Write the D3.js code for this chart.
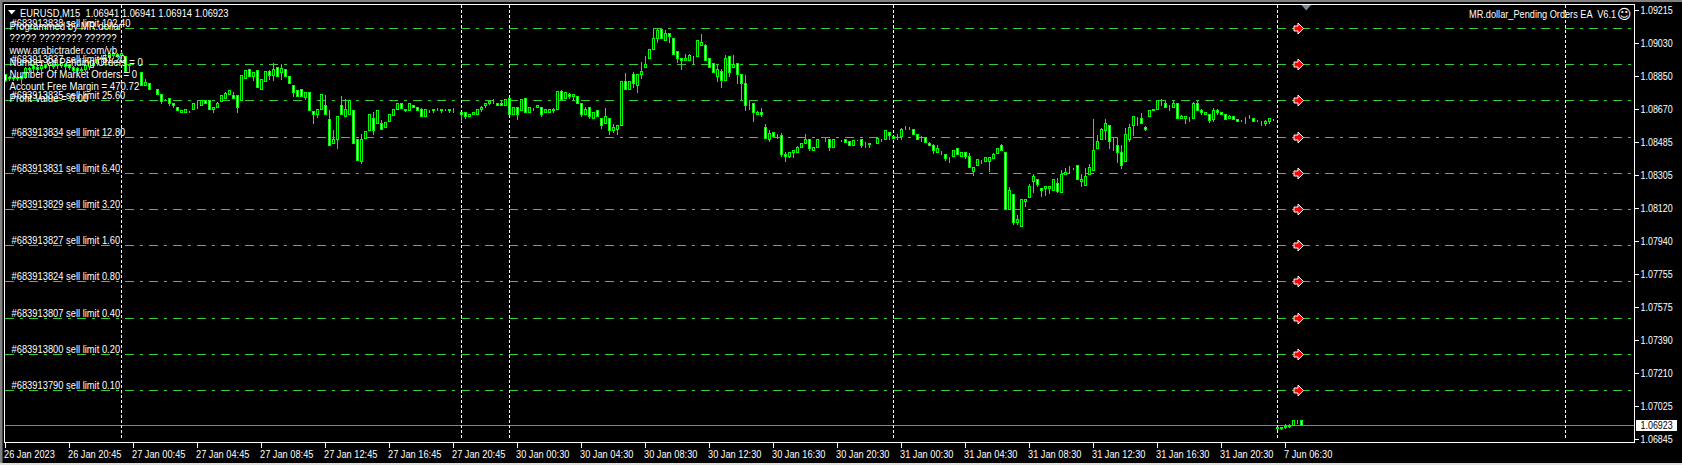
<!DOCTYPE html>
<html><head><meta charset="utf-8">
<script src="https://cdn.jsdelivr.net/npm/d3@7/dist/d3.min.js"></script>
<style>html,body{margin:0;padding:0;background:#000;overflow:hidden}svg{display:block}</style>
</head><body><svg id="c" width="1682" height="465"></svg>
<script>
// Candles are [open, high, low, close] in points above BASE_PRICE.
const BASE_PRICE = 1.06, POINT = 0.00001;
const candlesJan26 = [
[2859,2865,2821,2826],[2845,2857,2826,2839],[2843,2857,2828,2840],[2845,2855,2826,2838],[2848,2854,2813,2840],[2845,2905,2839,2896],[2887,2905,2872,2896],[2905,2915,2878,2894],[2900,2915,2872,2887],[2894,2924,2880,2909],
[2913,2924,2894,2900],[2909,2931,2891,2924],[2913,2924,2894,2905],[2909,2931,2896,2918],[2911,2931,2898,2924],[2915,2928,2891,2905],[2913,2924,2887,2902],[2898,2909,2876,2883],[2894,2905,2869,2883],[2883,2905,2872,2891],
[2887,2920,2878,2909],[2905,2939,2891,2928],[2924,2935,2902,2911],[2920,2957,2909,2946],[2942,2970,2924,2957],[2957,2975,2931,2946],[2953,2983,2942,2975],[2964,2986,2950,2975],[2972,2983,2953,2961]];
const candlesJan27 = [
[2964,2986,2950,2975],[2961,2964,2876,2878],[2911,2915,2872,2915],[2878,2880,2876,2878],[2878,2880,2876,2878],[2874,2874,2800,2800],[2800,2841,2800,2815],[2813,2813,2778,2778],[2780,2780,2780,2780],[2780,2780,2751,2751],
[2751,2751,2703,2712],[2721,2728,2716,2721],[2730,2730,2688,2703],[2703,2703,2679,2688],[2679,2679,2664,2664],[2651,2664,2651,2664],[2651,2666,2651,2666],[2662,2662,2651,2662],[2666,2703,2666,2703],[2717,2719,2675,2717],
[2690,2717,2690,2717],[2716,2716,2703,2703],[2716,2716,2666,2666],[2666,2679,2651,2679],[2679,2714,2679,2703],[2712,2743,2712,2743],[2730,2765,2730,2754],[2749,2776,2749,2771],[2743,2767,2728,2728],[2743,2743,2651,2679],
[2717,2854,2717,2854],[2837,2891,2837,2881],[2891,2891,2850,2850],[2850,2874,2828,2874],[2881,2881,2789,2789],[2776,2832,2776,2832],[2822,2878,2822,2878],[2878,2887,2835,2856],[2856,2929,2826,2891],[2902,2902,2850,2850],
[2872,2924,2832,2892],[2891,2891,2850,2850],[2850,2850,2810,2810],[2802,2802,2740,2762],[2773,2780,2740,2740],[2780,2784,2740,2740],[2736,2762,2721,2762],[2762,2762,2662,2662],[2655,2655,2588,2640],[2638,2669,2625,2669],
[2669,2752,2669,2752],[2688,2752,2638,2638],[2614,2666,2469,2469],[2482,2555,2482,2504],[2504,2629,2454,2629],[2688,2743,2638,2638],[2629,2730,2629,2669],[2638,2716,2638,2716],[2662,2662,2482,2482],[2504,2504,2389,2389],
[2380,2533,2371,2504],[2509,2546,2509,2546],[2552,2642,2552,2642],[2620,2657,2528,2552],[2588,2662,2588,2662],[2592,2614,2559,2559],[2568,2596,2568,2596],[2601,2642,2601,2642],[2633,2669,2633,2669],[2669,2703,2669,2703],
[2703,2703,2675,2675],[2669,2675,2655,2660],[2662,2703,2662,2703],[2688,2692,2677,2681],[2681,2681,2662,2662],[2669,2681,2629,2629],[2629,2669,2629,2669],[2666,2668,2651,2666],[2666,2670,2651,2664],[2669,2681,2662,2669],
[2666,2672,2651,2664],[2669,2671,2662,2669],[2666,2668,2651,2665],[2669,2681,2651,2667],[2679,2679,2679,2679],[2653,2653,2601,2640],[2653,2653,2616,2629],[2629,2642,2629,2642],[2640,2653,2640,2653],[2640,2669,2640,2669],
[2666,2690,2657,2681],[2688,2703,2679,2703],[2703,2721,2696,2712],[2703,2730,2701,2703],[2703,2703,2692,2692],[2703,2716,2692,2692],[2692,2721,2692,2721]];
const candlesJan30 = [
[2728,2735,2640,2640],[2640,2681,2640,2681],[2681,2681,2611,2640],[2662,2721,2662,2721],[2730,2730,2651,2651],[2651,2681,2651,2681],[2681,2681,2662,2681],[2681,2692,2681,2692],[2681,2681,2629,2640],[2651,2669,2651,2669],
[2651,2669,2651,2669],[2662,2681,2651,2669],[2668,2769,2668,2769],[2769,2780,2721,2721],[2728,2762,2728,2762],[2752,2762,2728,2740],[2740,2752,2717,2752],[2740,2740,2703,2703],[2703,2703,2629,2640],[2640,2684,2640,2669],
[2681,2681,2618,2629],[2618,2653,2618,2653],[2662,2669,2629,2629],[2618,2618,2564,2579],[2590,2681,2590,2631],[2620,2620,2528,2552],[2550,2592,2540,2570],[2559,2581,2528,2581],[2579,2824,2579,2824],[2824,2872,2780,2780],
[2780,2824,2780,2824],[2863,2880,2789,2813],[2800,2863,2762,2863],[2861,2931,2839,2880],[2900,2964,2900,2916],[2950,2999,2950,2999],[2999,3123,2999,3062],[3060,3123,3038,3103],[3112,3120,3060,3060],[3049,3112,3049,3090],
[3090,3090,3038,3071],[3062,3062,2972,2972],[2990,2990,2928,2950],[2950,2950,2889,2939],[2939,2979,2939,2952],[2939,2979,2939,2964],[2964,2964,2918,2964],[2961,3049,2961,3049],[3023,3090,3023,3040],[3023,3034,2939,2939],
[2950,2950,2902,2902],[2924,2924,2872,2872],[2850,2918,2822,2891],[2880,2893,2789,2828],[2828,2974,2828,2952],[2963,2963,2850,2872],[2900,2974,2900,2915],[2924,2924,2813,2861],[2863,2863,2725,2811],[2813,2863,2662,2690],
[2692,2719,2666,2692],[2703,2703,2601,2651],[2640,2662,2640,2653],[2653,2681,2629,2640],[2570,2592,2507,2507],[2500,2559,2489,2533],[2542,2542,2518,2518],[2522,2533,2507,2522],[2522,2542,2408,2417],[2421,2434,2380,2408],
[2408,2432,2404,2432],[2430,2443,2402,2443],[2430,2470,2430,2459],[2456,2482,2456,2482],[2478,2533,2478,2504],[2504,2504,2439,2452],[2441,2459,2441,2459],[2458,2504,2458,2504],[2511,2511,2511,2511],[2504,2511,2489,2504],
[2504,2504,2439,2458],[2458,2504,2458,2504],[2504,2504,2504,2504],[2505,2505,2490,2505],[2503,2503,2488,2488],[2490,2490,2470,2470],[2470,2500,2470,2496],[2496,2505,2496,2496],[2503,2503,2459,2470],[2477,2490,2459,2477],
[2472,2481,2459,2481],[2481,2481,2481,2481],[2481,2509,2481,2509],[2507,2507,2490,2507],[2505,2553,2505,2553],[2542,2542,2500,2527]];
const candlesJan31 = [
[2520,2524,2507,2507],[2514,2533,2503,2514],[2518,2570,2503,2559],[2559,2582,2559,2559],[2559,2573,2559,2559],[2559,2559,2529,2529],[2531,2531,2501,2501],[2514,2522,2490,2514],[2511,2511,2488,2488],[2481,2494,2468,2468],
[2470,2481,2426,2441],[2428,2472,2428,2453],[2433,2444,2417,2433],[2420,2420,2389,2400],[2407,2407,2378,2407],[2407,2442,2407,2442],[2453,2453,2418,2418],[2407,2431,2407,2431],[2431,2431,2398,2406],[2409,2433,2347,2347],
[2328,2348,2306,2348],[2358,2393,2358,2393],[2382,2393,2367,2382],[2380,2404,2380,2404],[2380,2404,2328,2404],[2400,2433,2400,2420],[2426,2453,2426,2453],[2470,2481,2439,2439],[2431,2431,2116,2116],[2118,2243,2118,2221],
[2199,2199,2035,2046],[2046,2090,2035,2061],[2020,2171,2020,2171],[2159,2171,2131,2171],[2181,2260,2181,2243],[2269,2312,2207,2299],[2282,2282,2240,2256],[2232,2232,2190,2219],[2229,2245,2195,2245],[2229,2243,2205,2243],
[2219,2282,2219,2282],[2260,2293,2207,2216],[2208,2334,2208,2310],[2308,2348,2308,2321],[2347,2361,2315,2347],[2347,2347,2334,2347],[2360,2360,2282,2282],[2269,2312,2245,2282],[2247,2348,2247,2299],[2308,2371,2308,2348],
[2330,2616,2330,2442],[2450,2531,2450,2492],[2501,2570,2501,2559],[2551,2619,2500,2592],[2581,2581,2450,2492],[2470,2514,2439,2470],[2470,2514,2378,2430],[2431,2472,2341,2358],[2380,2570,2380,2531],[2505,2592,2490,2570],
[2579,2630,2527,2630],[2619,2630,2579,2619],[2619,2653,2590,2590],[2570,2581,2551,2559],[2629,2664,2629,2664],[2662,2669,2662,2669],[2669,2719,2669,2719],[2717,2730,2688,2717],[2702,2717,2680,2680],[2680,2693,2665,2680],
[2678,2719,2678,2702],[2702,2702,2617,2617],[2616,2643,2616,2630],[2617,2630,2592,2630],[2619,2630,2601,2619],[2617,2715,2617,2702],[2702,2719,2662,2662],[2664,2673,2641,2651],[2640,2652,2640,2652],[2641,2641,2599,2610],
[2614,2680,2601,2664],[2664,2671,2641,2652],[2652,2652,2640,2640],[2641,2641,2612,2612],[2617,2641,2617,2630],[2630,2630,2614,2614],[2614,2614,2603,2603],[2614,2614,2603,2614],[2617,2632,2590,2617],[2619,2643,2619,2619],
[2619,2619,2601,2601],[2603,2614,2603,2603],[2597,2605,2579,2597],[2588,2614,2579,2603],[2601,2619,2592,2619],[2617,2617,2605,2617]];
const candlesJun7 = [[907,918,901,909],[905,918,899,910],[912,935,907,918],[918,935,912,924],[924,951,924,951],[946,957,935,946],[951,951,923,923]];

const priceTicks = [1.09215,1.09030,1.08850,1.08670,1.08485,1.08305,1.08120,1.07940,1.07755,1.07575,1.07390,1.07210,1.07025,1.06845];
const timeTicks = [0,16,32,48,64,80,96,112,128,144,160,176,192,208,224,240,256,272,288,304,320];
const timeLabels = ["26 Jan 2023","26 Jan 20:45","27 Jan 00:45","27 Jan 04:45","27 Jan 08:45","27 Jan 12:45","27 Jan 16:45","27 Jan 20:45","30 Jan 00:30","30 Jan 04:30","30 Jan 08:30","30 Jan 12:30","30 Jan 16:30","30 Jan 20:30","31 Jan 00:30","31 Jan 04:30","31 Jan 08:30","31 Jan 12:30","31 Jan 16:30","31 Jan 20:30","7 Jun 06:30"];
const separatorBars = [29,114,126,222,318,390];
const orderIds = ["683913838","683913837","683913835","683913834","683913831","683913829","683913827","683913824","683913807","683913800","683913790"];
const orderLots = ["102.40","51.20","25.60","12.80","6.40","3.20","1.60","0.80","0.40","0.20","0.10"];
const orderPrices = [1.09116,1.08916,1.08716,1.08516,1.08316,1.08116,1.07916,1.07716,1.07516,1.07316,1.07116];
const infoLines = ["Programmed by MR.dollar","????? ???????? ??????","www.arabictrader.com/vb","Number Of Pending Orders = 0","Number Of Market Orders = 0","Account Free Margin = 470.72","Profit Value = 0.00"];
const titleText = "EURUSD,M15  1.06941 1.06941 1.06914 1.06923";
const eaText = "MR.dollar_Pending Orders EA  V6.1";
const lastPrice = 1.06923;

const candles = [...candlesJan26,...candlesJan27,...candlesJan30,...candlesJan31,...candlesJun7]
  .map(r => r.map(p => BASE_PRICE + p*POINT));

const L=5, R=1634.5, T=4.5, B=442.5;
const x = d3.scaleLinear().domain([0,390]).range([5.5,1565.5]);
const y = d3.scaleLinear().domain([1.06845,1.09215]).range([439.5,10.5]);
const sy = v => Math.round(y(v)-0.5)+0.5;
const FONT = '"Liberation Sans"';
const svg = d3.select('#c');

svg.append('rect').attr('width',1682).attr('height',465).attr('fill','#000');
svg.append('rect').attr('width',1682).attr('height',2).attr('fill','#808080');
svg.append('rect').attr('width',2.5).attr('height',465).attr('fill','#808080');
svg.append('rect').attr('y',463).attr('width',1682).attr('height',2).attr('fill','#e0e0e0');

// order lines
svg.append('g').attr('shape-rendering','crispEdges').selectAll('line').data(orderPrices).join('line')
  .attr('x1',L).attr('x2',R).attr('y1',sy).attr('y2',sy)
  .attr('stroke','#32cd32').attr('stroke-dasharray','9,6,3,6');
// price line
svg.append('line').attr('x1',L).attr('x2',R).attr('y1',sy(lastPrice)).attr('y2',sy(lastPrice))
  .attr('stroke','#808080').attr('shape-rendering','crispEdges');
// separators
svg.append('g').attr('shape-rendering','crispEdges').selectAll('line').data(separatorBars).join('line')
  .attr('x1',d=>x(d)).attr('x2',d=>x(d)).attr('y1',5).attr('y2',439)
  .attr('stroke','#fff').attr('stroke-dasharray','3,2');

// candles
const cg = svg.append('g').attr('shape-rendering','crispEdges');
const bars = cg.selectAll('g').data(candles).join('g');
bars.append('line').attr('x1',(d,i)=>x(i)).attr('x2',(d,i)=>x(i))
  .attr('y1',d=>sy(d[1])).attr('y2',d=>sy(d[2])+0.5).attr('stroke','#00ff00');
bars.append('rect').attr('x',(d,i)=>x(i)-1).attr('width',2)
  .attr('y',d=>sy(Math.max(d[0],d[3])))
  .attr('height',d=>Math.max(0,sy(Math.min(d[0],d[3]))-sy(Math.max(d[0],d[3]))))
  .attr('fill',d=>d[3]<d[0]?'#fff':'#000').attr('stroke','#00ff00');

// frame
svg.append('path').attr('d',`M${T},${B}V${T}H${R}V${B}H${T}`).attr('fill','none').attr('stroke','#fff').attr('shape-rendering','crispEdges');

// axes
const fit = (sel,f) => sel.each(function(){ const w=this.getComputedTextLength(); d3.select(this).attr('textLength',w*f).attr('lengthAdjust','spacingAndGlyphs'); });
const yAxis = svg.append('g').attr('transform',`translate(${R},0)`)
  .call(d3.axisRight(y).tickValues(priceTicks).tickSize(4).tickPadding(2).tickFormat(d3.format('.5f')).offset(0));
const xAxis = svg.append('g').attr('transform',`translate(0,${B})`)
  .call(d3.axisBottom(x).tickValues(timeTicks).tickSize(5).tickPadding(3).tickFormat((d,i)=>timeLabels[i]).offset(0));
[yAxis,xAxis].forEach(a=>{ a.select('.domain').remove(); a.selectAll('line').attr('stroke','#fff').attr('shape-rendering','crispEdges');
  a.selectAll('text').attr('fill','#fff').attr('font-family',FONT).attr('font-size',10.5); });
xAxis.selectAll('text').attr('text-anchor','start').attr('dx',-1.5).attr('dy','0.75em');
fit(yAxis.selectAll('text'),0.85); fit(xAxis.selectAll('text'),0.88);

// current price tag
svg.append('rect').attr('x',1636).attr('y',sy(lastPrice)-5.5).attr('width',41).attr('height',11).attr('fill','#fff');
svg.append('text').attr('x',1640.5).attr('y',sy(lastPrice)+3.5).text(d3.format('.5f')(lastPrice))
  .attr('font-family',FONT).attr('font-size',10.5).attr('fill','#000').call(fit,0.85);

// order arrows
svg.append('g').selectAll('path').data(orderPrices).join('path')
  .attr('transform',d=>`translate(${x(323)+1},${sy(d)})`)
  .attr('d','M-4.5,-2.5H-0.5V-5.5L5,0L-0.5,5.5V2.5H-4.5Z').attr('fill','#f00').attr('stroke','#fff').attr('stroke-width',1);
// scroll marker
svg.append('path').attr('d','M1301.5,5H1311L1306.25,10.5Z').attr('fill','#778899');

// texts
svg.append('g').selectAll('text').data(infoLines).join('text')
  .attr('x',9.5).attr('y',(d,i)=>30+12*i).text(d=>d)
  .attr('font-family',FONT).attr('font-size',11).attr('fill','#fff').call(fit,0.875);
svg.append('g').selectAll('text').data(orderPrices).join('text')
  .attr('x',11.5).attr('y',d=>sy(d)-2).text((d,i)=>`#${orderIds[i]} sell limit ${orderLots[i]}`)
  .attr('font-family',FONT).attr('font-size',10.5).attr('fill','#fff').call(fit,0.89);
svg.append('path').attr('d','M8,10H15.5L11.75,14.5Z').attr('fill','#fff');
svg.append('text').attr('x',20).attr('y',16.5).text(titleText).style('white-space','pre')
  .attr('font-family',FONT).attr('font-size',11).attr('fill','#fff').call(fit,0.85);
svg.append('text').attr('x',1469).attr('y',17.5).text(eaText).style('white-space','pre')
  .attr('font-family',FONT).attr('font-size',10.5).attr('fill','#fff').call(fit,0.875);
svg.append('text').attr('x',1617).attr('y',19).text('\u263A').attr('font-family','"DejaVu Sans"').attr('font-size',14).attr('fill','#fff');
</script></body></html>
